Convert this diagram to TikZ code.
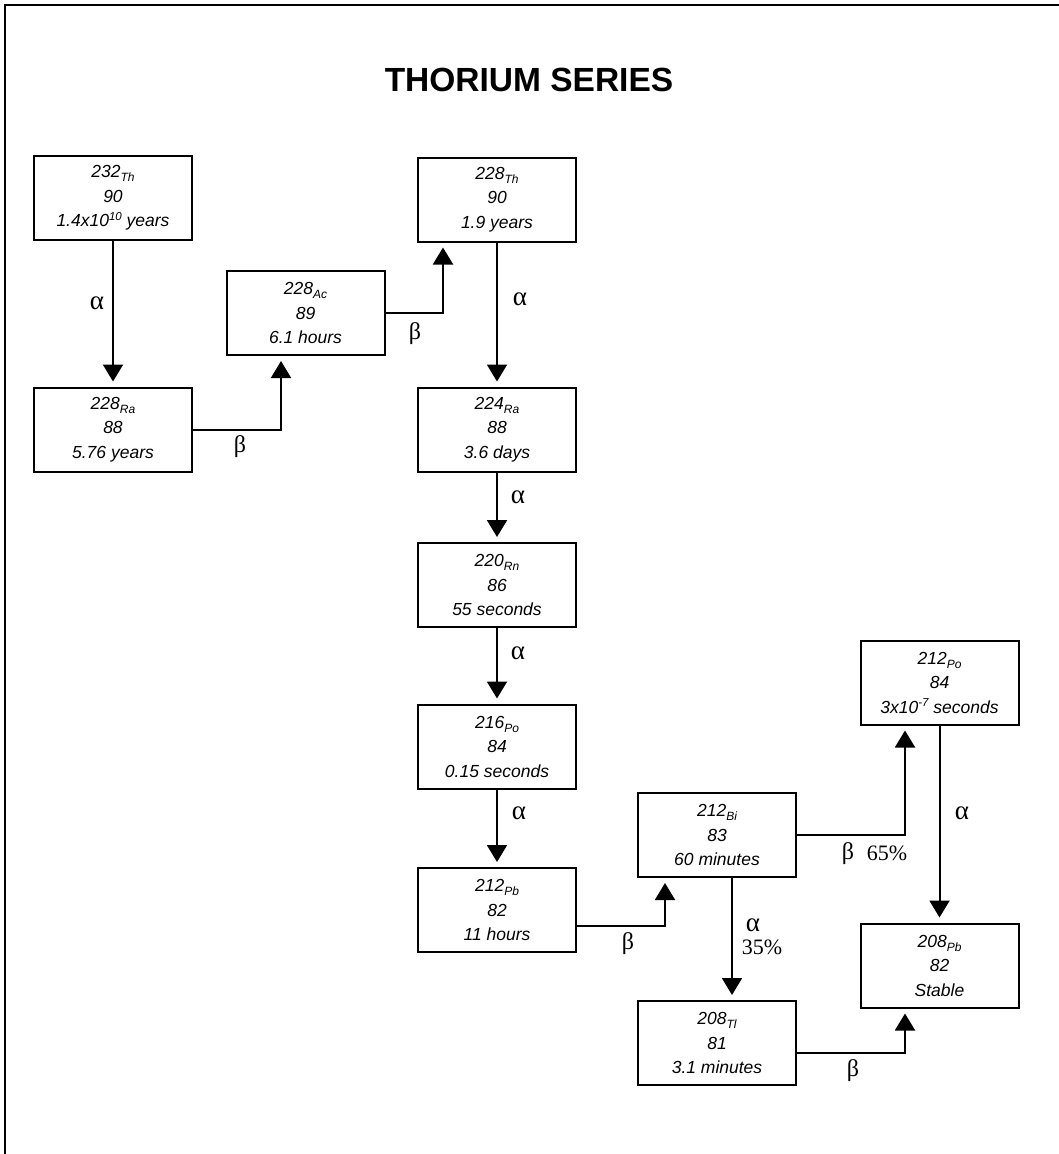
\documentclass[tikz,border=0pt]{standalone}
\usepackage{fontspec}
\setmainfont{Liberation Serif}
\newfontfamily\arialfont{Liberation Sans}
\usetikzlibrary{arrows.meta}
\newcommand\nuc[2]{#1{\fontsize{12}{12}\selectfont\raisebox{-4pt}{#2}}}
\newcommand\supx[1]{\raisebox{6.5pt}{\fontsize{11.5}{11.5}\selectfont #1}}
\tikzset{
  iso/.style={draw, line width=2pt, minimum width=158pt, minimum height=84pt,
    inner sep=0pt, align=center,
    font=\arialfont\itshape\fontsize{17.5}{24.5}\selectfont},
  arr/.style={line width=2pt, -{Triangle[width=20pt,length=17pt]}, shorten >=5pt},
  lbl/.style={anchor=base, inner sep=0pt, font=\fontsize{22}{22}\selectfont},
  alab/.style={anchor=base, inner sep=0pt, font=\fontsize{27}{27}\selectfont},
  blab/.style={anchor=base, inner sep=0pt, font=\fontsize{24}{24}\selectfont},
  ttl/.style={anchor=base, inner sep=0pt, font=\arialfont\bfseries\fontsize{33.5}{33.5}\selectfont}
}
\begin{document}
\begin{tikzpicture}[x=1pt,y=-1pt]
\useasboundingbox (0,0) rectangle (1058,1154);
\fill[white] (0,0) rectangle (1058,1154);
% frame
\draw[line width=2pt] (5,1160) -- (5,5) -- (1065,5);
% title
\node[ttl] (title) at (529,91) {THORIUM SERIES};
% nodes
\node[iso] (th232) at (113,198) {\nuc{232}{Th}\\90\\1.4x10\supx{10} years};
\node[iso] (ra228) at (113,429.5) {\nuc{228}{Ra}\\88\\5.76 years};
\node[iso] (ac228) at (305.5,313) {\nuc{228}{Ac}\\89\\6.1 hours};
\node[iso] (th228) at (497,199.5) {\nuc{228}{Th}\\90\\1.9 years};
\node[iso] (ra224) at (497,429.5) {\nuc{224}{Ra}\\88\\3.6 days};
\node[iso] (rn220) at (497,585) {\nuc{220}{Rn}\\86\\55 seconds};
\node[iso] (po216) at (497,746.5) {\nuc{216}{Po}\\84\\0.15 seconds};
\node[iso] (pb212) at (497,910) {\nuc{212}{Pb}\\82\\11 hours};
\node[iso] (bi212) at (717,835) {\nuc{212}{Bi}\\83\\60 minutes};
\node[iso] (tl208) at (717,1043) {\nuc{208}{Tl}\\81\\3.1 minutes};
\node[iso] (po212) at (939.5,682.5) {\nuc{212}{Po}\\84\\3x10\supx{-7} seconds};
\node[iso] (pb208) at (939.5,965.5) {\nuc{208}{Pb}\\82\\Stable};
% connectors
\draw[arr] (th232.south) -- (ra228.north);
\draw[arr] (ra228.east) -| ([xshift=-24.5pt]ac228.south);
\draw[arr] (ac228.east) -| ([xshift=-54pt]th228.south);
\draw[arr] (th228.south) -- (ra224.north);
\draw[arr] (ra224.south) -- (rn220.north);
\draw[arr] (rn220.south) -- (po216.north);
\draw[arr] (po216.south) -- (pb212.north);
\draw[arr] ([yshift=-16pt]pb212.east) -| ([xshift=-52pt]bi212.south);
\draw[arr] ([xshift=15pt]bi212.south) -- ([xshift=15pt]tl208.north);
\draw[arr] (bi212.east) -| ([xshift=-34.5pt]po212.south);
\draw[arr] (po212.south) -- (pb208.north);
\draw[arr] ([yshift=-10pt]tl208.east) -| ([xshift=-34.5pt]pb208.south);
% labels
\node[alab] (l1) at (97,309) {α};
\node[blab] (l2) at (240,452) {β};
\node[blab] (l3) at (415,339) {β};
\node[alab] (l4) at (520,305) {α};
\node[alab] (l5) at (518,503) {α};
\node[alab] (l6) at (518,659) {α};
\node[alab] (l7) at (519,819) {α};
\node[blab] (l8) at (628,949) {β};
\node[alab] (l9) at (753,931) {α};
\node[lbl] (l10) at (762,954.5) {35\%};
\node[blab] (l11) at (848,859) {β};
\node[lbl] (l12) at (887,860.5) {65\%};
\node[alab] (l13) at (962,819) {α};
\node[blab] (l14) at (853,1076) {β};
\end{tikzpicture}
\end{document}
